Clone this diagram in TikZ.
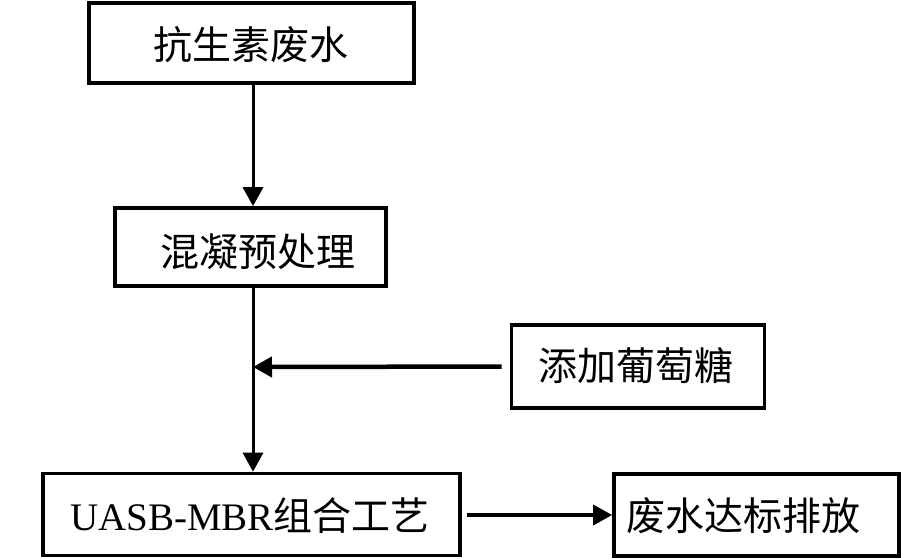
\documentclass[tikz,border=0pt]{standalone}
\usepackage{fontspec}
\setmainfont{Liberation Serif}
\newfontfamily\cjk{Noto Sans CJK SC}
\usetikzlibrary{arrows.meta}
\begin{document}
\begin{tikzpicture}[x=1pt,y=-1pt,
  boxstyle/.style={draw=black,line width=3.6pt,inner sep=0pt,fill=white},
  txt/.style={font=\fontsize{39}{41}\selectfont\cjk,inner sep=0pt},
  conn/.style={line width=3pt,-{Triangle[length=19pt,width=20pt]}}]
\useasboundingbox (0,0) rectangle (901,558);
\node[boxstyle,minimum width=325pt,minimum height=80pt] (b1) at (251.5,43) {};
\node[txt] (t1) at (250.5,45) {抗生素废水};
\node[boxstyle,minimum width=271pt,minimum height=78pt] (b2) at (250.5,247) {};
\node[txt] (t2) at (258,252) {混凝预处理};
\node[boxstyle,minimum width=253pt,minimum height=83pt] (b3) at (638,366.5) {};
\node[txt] (t3) at (636,366) {添加葡萄糖};
\node[boxstyle,minimum width=417pt,minimum height=82pt] (b4) at (251.5,514.5) {};
\node[txt] (t4) at (250,516) {\fontspec{Liberation Serif}UASB-MBR\cjk 组合工艺};
\node[boxstyle,minimum width=285pt,minimum height=82pt] (b5) at (756.5,515) {};
\node[txt] (t5) at (743,516) {废水达标排放};
\coordinate (j) at (253,367);
\draw[conn] (b1.south -| j) -- (b2.north -| j);
\draw[conn] (b2.south -| j) -- (b4.north -| j);
\draw[conn,line width=4.5pt,shorten <=8pt] (b3.west) -- (j);
\draw[conn,line width=3.5pt] (467,515) coordinate (s5) -- (b5.west);
\end{tikzpicture}
\end{document}
